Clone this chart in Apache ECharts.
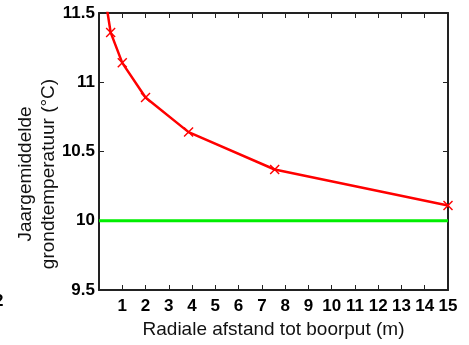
<!DOCTYPE html>
<html>
<head>
<meta charset="utf-8">
<script src="https://cdn.jsdelivr.net/npm/echarts@6/dist/echarts.min.js"></script>
<style>
  html, body { margin: 0; padding: 0; background: #fff; }
  #chart { width: 469px; height: 345px; }
</style>
</head>
<body>
<div id="chart"></div>
<script>
// distances (m) and temperatures
const distances = [0.25, 0.5, 1, 2, 3.85, 7.55, 15];
const temperatures = [11.63, 11.36, 11.14, 10.89, 10.64, 10.37, 10.11];
const markerShown = [false, true, true, true, true, true, true];
const baseline = 10;
const xTicks = [1, 2, 3, 4, 5, 6, 7, 8, 9, 10, 11, 12, 13, 14, 15];
const yTicks = [9.5, 10, 10.5, 11, 11.5];

const crossPath = 'path://M0,1L1,0L5,4L9,0L10,1L6,5L10,9L9,10L5,6L1,10L0,9L4,5Z';
const axisColor = '#222';
const font = 'Liberation Sans, Arial, sans-serif';

const chart = echarts.init(document.getElementById('chart'));

const redData = distances.map((d, i) => ({
  value: [d, temperatures[i]],
  symbol: markerShown[i] ? crossPath : 'none'
}));

const option = {
  animation: false,
  backgroundColor: '#fff',
  grid: { left: 99, right: 21, top: 13, bottom: 55, containLabel: false, outerBoundsMode: 'none' },
  xAxis: [
    {
      type: 'value', position: 'bottom', min: 0, max: 15, interval: 1,
      axisLine: { onZero: false, lineStyle: { color: axisColor, width: 2 } },
      axisTick: { inside: true, length: 5, lineStyle: { color: axisColor, width: 1 } },
      axisLabel: {
        color: '#000', fontFamily: font, fontWeight: 'bold', fontSize: 17, margin: 8,
        formatter: v => (xTicks.includes(v) ? String(v) : '')
      },
      splitLine: { show: false },
      name: 'Radiale afstand tot boorput (m)',
      nameLocation: 'middle', nameGap: 29,
      nameTextStyle: { color: '#111', fontFamily: font, fontSize: 19 }
    },
    {
      type: 'value', position: 'top', min: 0, max: 15, interval: 1,
      axisLine: { onZero: false, lineStyle: { color: axisColor, width: 2 } },
      axisTick: { inside: true, length: 5, lineStyle: { color: axisColor, width: 1 } },
      axisLabel: { show: false },
      splitLine: { show: false }
    }
  ],
  yAxis: [
    {
      type: 'value', position: 'left', min: 9.5, max: 11.5, interval: 0.5,
      axisLine: { show: true, onZero: false, lineStyle: { color: axisColor, width: 2 } },
      axisTick: { show: true, inside: true, length: 5, lineStyle: { color: axisColor, width: 1 } },
      axisLabel: {
        color: '#000', fontFamily: font, fontWeight: 'bold', fontSize: 17, margin: 4,
        formatter: v => (yTicks.includes(v) ? String(v) : '')
      },
      splitLine: { show: false }
    },
    {
      type: 'value', position: 'right', min: 9.5, max: 11.5, interval: 0.5,
      axisLine: { show: true, onZero: false, lineStyle: { color: axisColor, width: 2 } },
      axisTick: { show: true, inside: true, length: 5, lineStyle: { color: axisColor, width: 1 } },
      axisLabel: { show: false },
      splitLine: { show: false }
    }
  ],
  graphic: [
    {
      type: 'text', x: 37, y: 174, rotation: Math.PI / 2,
      style: {
        text: 'Jaargemiddelde\ngrondtemperatuur (°C)',
        fill: '#111', font: '19px ' + font, align: 'center', verticalAlign: 'middle', lineHeight: 23
      }
    },
    {
      type: 'text', x: -6, y: 301,
      style: { text: '2', fill: '#000', font: 'bold 17px ' + font, verticalAlign: 'middle' }
    }
  ],
  series: [
    {
      type: 'line',
      data: [[0, baseline], [15, baseline]],
      symbol: 'none',
      lineStyle: { color: '#00ee00', width: 3 },
      z: 2
    },
    {
      type: 'line',
      data: redData,
      symbolSize: 10,
      itemStyle: { color: '#ff0000' },
      lineStyle: { color: '#ff0000', width: 2.5 },
      clip: true,
      z: 3
    }
  ]
};

chart.setOption(option);
</script>
</body>
</html>
